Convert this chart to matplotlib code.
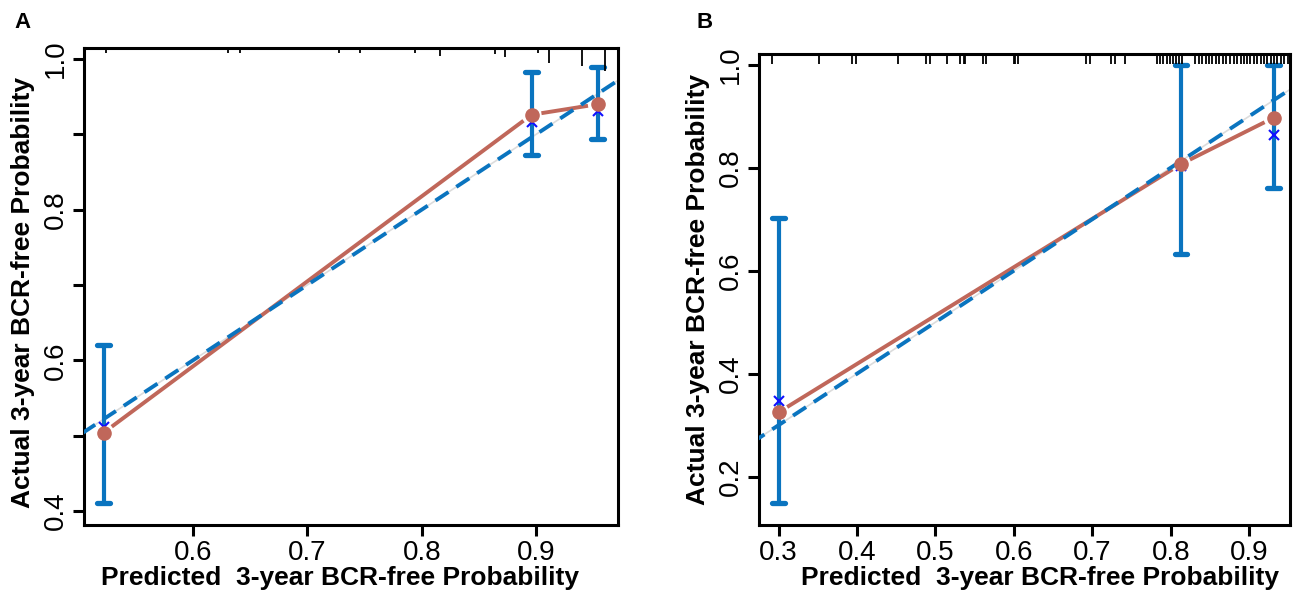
import matplotlib
matplotlib.use("Agg")
import matplotlib.pyplot as plt
import numpy as np

plt.rcParams['font.family'] = ['Liberation Sans', 'DejaVu Sans']

# ---- Panel A data ----
a_pred = [0.522, 0.896, 0.954]
a_obs = [0.504, 0.926, 0.940]
a_lo = [0.411, 0.873, 0.894]
a_hi = [0.620, 0.983, 0.989]
a_corr = [0.512, 0.916, 0.931]
a_rug = [0.524, 0.631, 0.641, 0.728, 0.746, 0.794, 0.816, 0.864, 0.873,
         0.902, 0.911, 0.940, 0.960]
a_rug_h = [2, 2, 2, 2, 2, 2, 5, 3, 6, 2, 12, 15, 20]

# ---- Panel B data ----
b_pred = [0.300, 0.813, 0.931]
b_obs = [0.325, 0.807, 0.897]
b_lo = [0.148, 0.633, 0.760]
b_hi = [0.702, 1.000, 1.000]
b_corr = [0.346, 0.803, 0.863]
b_rug = [0.292, 0.352, 0.394, 0.399, 0.452, 0.488, 0.493, 0.515, 0.531,
         0.536, 0.538, 0.561, 0.565, 0.600, 0.602, 0.605, 0.692, 0.697,
         0.724, 0.729, 0.741, 0.782, 0.786, 0.790, 0.795, 0.799, 0.803,
         0.807, 0.811, 0.814, 0.831, 0.836, 0.840, 0.845, 0.849, 0.853,
         0.858, 0.862, 0.866, 0.871, 0.875, 0.880, 0.884, 0.889, 0.893,
         0.897, 0.901, 0.906, 0.910, 0.915, 0.919, 0.923, 0.928, 0.932,
         0.936, 0.940, 0.945, 0.950]
b_rug_h = [8] * len(b_rug)

BLUE = '#0A74BF'
RED = '#C0675A'


def calib_panel(ax, pred, obs, lo, hi, corr, rug, rug_h):
    # ideal line, light grey
    ax.plot([0, 1.1], [0, 1.1], color='#dcdcdc', lw=1.2, zorder=1)
    # error bars with caps
    xr = ax.get_xlim()
    cw = (xr[1] - xr[0]) * 0.012
    for x, l, h in zip(pred, lo, hi):
        ax.plot([x, x], [l, h], color=BLUE, lw=3, solid_capstyle='butt', zorder=2)
        for yy in (l, h):
            ax.plot([x - cw, x + cw], [yy, yy], color=BLUE, lw=3.8,
                    solid_capstyle='round', zorder=2)
    # connecting line with small gaps at the points (like R type="b")
    pts = ax.transData.transform(np.column_stack([pred, obs]))
    inv = ax.transData.inverted()
    gap = 10
    for i in range(len(pts) - 1):
        p0, p1 = pts[i], pts[i + 1]
        d = (p1 - p0) / np.hypot(*(p1 - p0))
        seg = inv.transform(np.array([p0 + d * gap, p1 - d * gap]))
        ax.plot(seg[:, 0], seg[:, 1], color=RED, lw=2.8,
                solid_capstyle='butt', zorder=3)
    ax.plot([0, 1.1], [0, 1.1], color=BLUE, lw=2.8, dashes=(4, 2.4), zorder=4)
    ax.plot(pred, corr, 'x', color='#1010ff', ms=7, mew=1.5, zorder=5)
    ax.plot(pred, obs, 'o', color=RED, ms=9.5, zorder=6)
    # rug along the top, lengths in pixels
    yl = ax.get_ylim()
    px_per_unit = ax.get_window_extent().height / (yl[1] - yl[0])
    tops = np.full(len(rug), yl[1])
    bots = yl[1] - (np.asarray(rug_h) + 2.5) / px_per_unit
    ax.vlines(rug, bots, tops, colors='black', lw=1.3, zorder=7)
    ax.set_ylim(yl)


fig = plt.figure(figsize=(12.94, 5.92), dpi=100)
axA = fig.add_axes([0.0653, 0.114, 0.4123, 0.8049])
axB = fig.add_axes([0.5864, 0.1132, 0.4105, 0.7957])

axA.set_xlim(0.5052, 0.9716)
axA.set_ylim(0.382, 1.0146)
axB.set_xlim(0.2747, 0.952)
axB.set_ylim(0.106, 1.021)

calib_panel(axA, a_pred, a_obs, a_lo, a_hi, a_corr, a_rug, a_rug_h)
calib_panel(axB, b_pred, b_obs, b_lo, b_hi, b_corr, b_rug, b_rug_h)

axA.set_xticks([0.6, 0.7, 0.8, 0.9])
axA.set_xticklabels(['0.6', '0.7', '0.8', '0.9'])
axA.set_yticks([0.4, 0.5, 0.6, 0.7, 0.8, 0.9, 1.0])
axA.set_yticklabels(['0.4', '', '0.6', '', '0.8', '', '1.0'])
axB.set_xticks([0.3, 0.4, 0.5, 0.6, 0.7, 0.8, 0.9])
axB.set_xticklabels(['0.3', '0.4', '0.5', '0.6', '0.7', '0.8', '0.9'])
axB.set_yticks([0.2, 0.4, 0.6, 0.8, 1.0])
axB.set_yticklabels(['0.2', '0.4', '0.6', '0.8', '1.0'])

for ax in (axA, axB):
    for s in ax.spines.values():
        s.set_linewidth(2.2)
    ax.tick_params(axis='both', length=8, width=2.2, labelsize=20, pad=3)
    for lab in ax.get_yticklabels():
        lab.set_rotation(90)
        lab.set_va('center')
    ax.set_xlabel('Predicted  3-year BCR-free Probability', fontsize=19,
                  fontweight='bold')
    ax.set_ylabel('Actual 3-year BCR-free Probability', fontsize=19,
                  fontweight='bold')

axA.xaxis.set_label_coords(0.479, -0.087)
axB.xaxis.set_label_coords(0.529, -0.087)
axA.yaxis.set_label_coords(-0.093, 0.486)
axB.yaxis.set_label_coords(-0.092, 0.5)

fig.text(0.011, 0.962, 'A', fontsize=16, fontweight='bold', ha='left', va='center')
fig.text(0.538, 0.962, 'B', fontsize=16, fontweight='bold', ha='left', va='center')

fig.savefig('out.png', dpi=100)
